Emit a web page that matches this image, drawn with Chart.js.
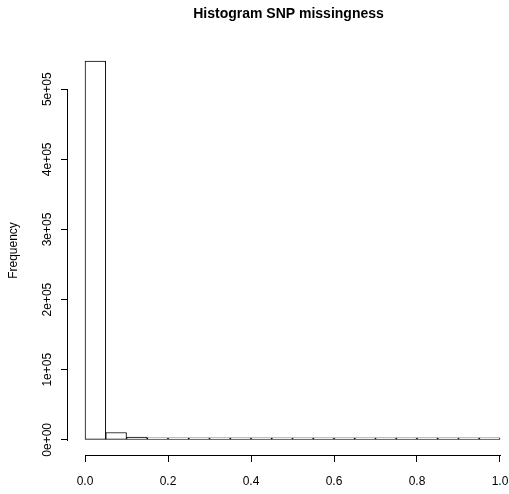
<!DOCTYPE html>
<html>
<head>
<meta charset="utf-8">
<script src="https://cdn.jsdelivr.net/npm/chart.js@4.4.1/dist/chart.umd.min.js"></script>
<style>
  html, body { margin: 0; padding: 0; background: #fff; }
  canvas { display: block; }
</style>
</head>
<body>
<canvas id="chart" width="509" height="494"></canvas>
<script>
// histogram bins (width 0.05)
const binCenters = [0.025, 0.075, 0.125, 0.175, 0.225, 0.275, 0.325, 0.375, 0.425, 0.475,
                    0.525, 0.575, 0.625, 0.675, 0.725, 0.775, 0.825, 0.875, 0.925, 0.975];
const binCounts = [540000, 10500, 3900, 1900, 1000, 700, 500, 450, 400, 350,
                   300, 300, 250, 250, 400, 200, 200, 250, 400, 900];

const xTickValues = [0, 0.2, 0.4, 0.6, 0.8, 1.0];
const xTickLabels = ['0.0', '0.2', '0.4', '0.6', '0.8', '1.0'];
const yTickValues = [0, 100000, 200000, 300000, 400000, 500000];
const yTickLabels = ['0e+00', '1e+05', '2e+05', '3e+05', '4e+05', '5e+05'];

const FONT = '"Liberation Sans", Arial, Helvetica, sans-serif';

// R draws axis lines only between first and last tick
const rAxes = {
    id: 'rAxes',
    afterDraw(chart) {
        const ctx = chart.ctx;
        const area = chart.chartArea;
        const xs = chart.scales.x, ys = chart.scales.y;
        const x0 = Math.round(xs.getPixelForValue(xTickValues[0]));
        const x1 = Math.round(xs.getPixelForValue(xTickValues[xTickValues.length - 1]));
        const y0 = Math.round(ys.getPixelForValue(yTickValues[0]));
        const y1 = Math.round(ys.getPixelForValue(yTickValues[yTickValues.length - 1]));
        ctx.save();
        ctx.fillStyle = '#000';
        ctx.fillRect(x0, Math.round(area.bottom), x1 - x0 + 1, 1);
        ctx.fillRect(Math.round(area.left) - 1, y1, 1, y0 - y1 + 1);
        ctx.restore();
    }
};
Chart.register(rAxes);

new Chart(document.getElementById('chart').getContext('2d'), {
    type: 'bar',
    data: {
        datasets: [{
            label: 'Frequency',
            data: binCenters.map((c, i) => ({x: c, y: binCounts[i]})),
            backgroundColor: '#fff',
            borderColor: '#000',
            borderWidth: 1,
            borderSkipped: false,
            minBarLength: 2,
            barPercentage: 1,
            categoryPercentage: 1
        }]
    },
    options: {
        responsive: false,
        animation: false,
        devicePixelRatio: 1,
        layout: { padding: 0 },
        plugins: {
            legend: { display: false },
            tooltip: { enabled: false },
            title: {
                display: true,
                text: 'Histogram SNP missingness',
                fullSize: false,
                color: '#000',
                font: { family: FONT, size: 14, weight: 'bold' },
                padding: { top: 5.5, bottom: 23.7 }
            }
        },
        scales: {
            x: {
                type: 'linear',
                offset: false,
                min: -0.041,
                max: 1.0217,
                afterBuildTicks: s => { s.ticks = xTickValues.map(v => ({value: v})); },
                afterFit: s => { s.height = 39; s.paddingLeft = 0; s.paddingRight = 0; },
                grid: { display: true, offset: false, drawOnChartArea: false, drawTicks: true, tickLength: 7, color: '#000', lineWidth: 1 },
                border: { display: false },
                ticks: {
                    autoSkip: false,
                    maxRotation: 0,
                    padding: 12,
                    color: '#000',
                    font: { family: FONT, size: 12 },
                    callback: (v, i) => xTickLabels[i]
                }
            },
            y: {
                type: 'linear',
                min: -21600,
                max: 561600,
                afterBuildTicks: s => { s.ticks = yTickValues.map(v => ({value: v})); },
                afterFit: s => { s.width = 68; s.paddingTop = 0; s.paddingBottom = 0; },
                grid: { display: true, drawOnChartArea: false, drawTicks: true, tickLength: 7, color: '#000', lineWidth: 1 },
                border: { display: false },
                title: {
                    display: true,
                    text: 'Frequency',
                    color: '#000',
                    font: { family: FONT, size: 12 },
                    padding: { top: 6, bottom: 0 }
                },
                ticks: {
                    autoSkip: false,
                    minRotation: 90,
                    maxRotation: 90,
                    crossAlign: 'center',
                    padding: -4,
                    color: '#000',
                    font: { family: FONT, size: 12 },
                    callback: (v, i) => yTickLabels[i]
                }
            }
        }
    }
});
</script>
</body>
</html>
